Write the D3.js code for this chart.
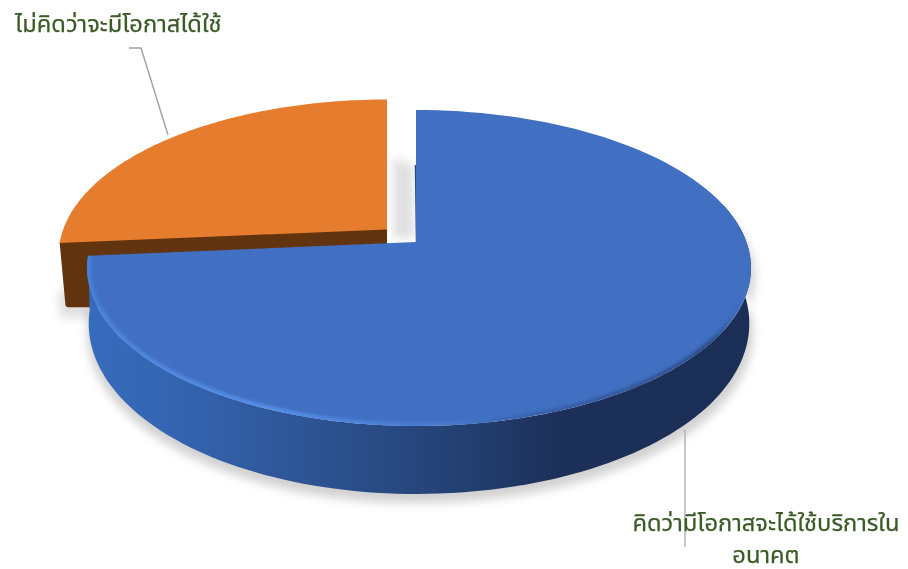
<!DOCTYPE html>
<html>
<head>
<meta charset="utf-8">
<script src="https://cdn.jsdelivr.net/npm/d3@7"></script>
<style>
html, body { margin: 0; background: #fff; overflow: hidden; }
text { font-family: "Noto Sans", "Noto Sans Thai", "DejaVu Sans", sans-serif; font-size: 23.7px; fill: #3b5b26; stroke: #3b5b26; stroke-width: 0.25px; }
</style>
</head>
<body>
<div id="figure"></div>
<script>
const categories = ['คิดว่ามีโอกาสจะได้ใช้บริการในอนาคต', 'ไม่คิดว่าจะมีโอกาสได้ใช้'];
const seriesValues = [73.6, 26.4];
const topColors = ['#4170c2', '#e67c2e'];

const width = 908;
const height = 569;

const svg = d3.select('#figure').append('svg')
    .attr('width', width)
    .attr('height', height);

const defs = svg.append('defs');

// 透视参数
const R = 330.4;
const ky = 0.1646;
const ay = 153.7;
const depth = 68;
const shrink = 0.995;
const leftSquash = 0.982;
const centers = [{ x: 416, y: 242, s: 1, sx: 1 }, { x: 387, y: 229.5, s: 0.985, sx: 0.998 }];

const slices = d3.pie().sort(null).value(d => d)(seriesValues);
const blue = slices[0];
const orange = slices[1];

function project(angle, r, z, c) {
    const u = Math.sin(angle) * r;
    const v = -Math.cos(angle) * r;
    const w = 1 - ky * v;
    const s = (z ? shrink : 1) * c.sx * (u < 0 ? leftSquash : 1);
    return [c.x + R * u / w * s, c.y + ay * v / w * c.s + z * depth * (0.78 + 0.22 * v)];
}

function rim(a0, a1, r, z, c) {
    return d3.range(0, 121).map(i => project(a0 + (a1 - a0) * i / 120, r, z, c));
}

const line = d3.line();

function topPath(d, c, r) {
    return line([[c.x, c.y], ...rim(d.startAngle, d.endAngle, r, 0, c)]) + 'Z';
}

function wallPath(a0, a1, c) {
    return line([...rim(a0, a1, 1, 0, c), ...rim(a1, a0, 1, 1, c)]) + 'Z';
}

// 滤镜和渐变
const blur = (id, sd) => defs.append('filter').attr('id', id)
    .attr('x', '-20%').attr('y', '-20%').attr('width', '140%').attr('height', '140%')
    .append('feGaussianBlur').attr('stdDeviation', sd);
blur('shadow-blur', 5);
blur('soft-blur', 1.6);

const sideGrad = defs.append('linearGradient').attr('id', 'side-grad')
    .attr('gradientUnits', 'userSpaceOnUse')
    .attr('x1', 88).attr('x2', 752).attr('y1', 0).attr('y2', 0);
[[0, '#376bbd'], [0.12, '#3565b2'], [0.32, '#2e5596'], [0.57, '#233f70'], [0.72, '#1b2f58'], [1, '#1b2f56']]
    .forEach(s => sideGrad.append('stop').attr('offset', s[0]).attr('stop-color', s[1]));

const rimGrad = defs.append('linearGradient').attr('id', 'rim-grad')
    .attr('gradientUnits', 'userSpaceOnUse')
    .attr('x1', 88).attr('x2', 752).attr('y1', 0).attr('y2', 0);
[[0, '#4b85de', 0.9], [0.28, '#5590ea', 1], [0.55, '#4b80d4', 0.6], [0.68, '#2c4f90', 0.5], [0.93, '#1f3868', 0.6], [0.985, '#1f3868', 0]]
    .forEach(s => rimGrad.append('stop').attr('offset', s[0]).attr('stop-color', s[1]).attr('stop-opacity', s[2]));

defs.append('clipPath').attr('id', 'blue-clip')
    .append('path').attr('d', topPath(blue, centers[0], 1));

// 阴影
const shadow = svg.append('g').attr('filter', 'url(#shadow-blur)');
shadow.append('path')
    .attr('d', wallPath(Math.PI * 0.42, blue.endAngle, { x: centers[0].x + 1, y: centers[0].y + 9, s: 1, sx: 1.008 }))
    .attr('fill', '#000').attr('opacity', 0.18);
shadow.append('path')
    .attr('d', line([[58, 290], [95, 290], [95, 318], [60, 318]]) + 'Z')
    .attr('fill', '#000').attr('opacity', 0.12);
shadow.append('path')
    .attr('d', line([[centers[0].x - 23, 158], [centers[0].x - 2, 165], [centers[0].x - 2, 238], [centers[0].x - 23, 238]]) + 'Z')
    .attr('fill', '#000').attr('opacity', 0.12);

// 橙色块
const wallDepth = 1.2;
const wallLeft = project(orange.startAngle, 1, 0, centers[1]);
const wallLow = project(orange.startAngle, 1, wallDepth, centers[1]);
svg.append('path')
    .attr('d', line([
        [wallLeft[0] + 3, wallLeft[1]],
        [centers[1].x, centers[1].y + 2],
        [centers[1].x, wallLow[1] - 4],
        [wallLow[0] + 7, wallLow[1] - 4]
    ]) + 'Z')
    .attr('fill', '#62330f')
    .attr('stroke', '#62330f')
    .attr('stroke-width', 6)
    .attr('stroke-linejoin', 'round');

// 橙色右缘不外扩
svg.append('rect')
    .attr('x', centers[1].x)
    .attr('y', centers[1].y - 4)
    .attr('width', 4)
    .attr('height', 20)
    .attr('fill', '#fff');

svg.append('path')
    .attr('d', topPath(orange, centers[1], 1))
    .attr('fill', topColors[1]);

// 蓝色块
svg.append('path')
    .attr('d', wallPath(Math.PI * 0.42, blue.endAngle, centers[0]))
    .attr('fill', 'url(#side-grad)');

svg.append('path')
    .attr('d', line([[centers[0].x - 0.5, 165], [centers[0].x + 0.5, centers[0].y]]))
    .attr('stroke', '#2a4a85')
    .attr('stroke-width', 1.5);

svg.append('path')
    .attr('d', topPath(blue, centers[0], 1))
    .attr('fill', topColors[0]);

// 斜面高光
svg.append('g')
    .attr('clip-path', 'url(#blue-clip)')
    .append('path')
    .attr('d', line(rim(Math.PI * 0.47, blue.endAngle, 0.998, 0, centers[0])))
    .attr('fill', 'none')
    .attr('stroke', 'url(#rim-grad)')
    .attr('stroke-width', 6)
    .attr('filter', 'url(#soft-blur)');

// 引导线
const leader = d3.line();
svg.append('path')
    .attr('d', leader([[129, 48], [141, 48], [168, 135]]))
    .attr('fill', 'none').attr('stroke', '#a0a0a0').attr('stroke-width', 1.4);
svg.append('path')
    .attr('d', leader([[685, 430], [685, 547]]))
    .attr('fill', 'none').attr('stroke', '#b0b0b0').attr('stroke-width', 1.4);

// 标签
svg.append('text').attr('x', 15).attr('y', 32).text(categories[1]);
const lab = svg.append('text').attr('text-anchor', 'middle');
lab.append('tspan').attr('x', 766).attr('y', 531).text(categories[0].slice(0, categories[0].length - 5));
lab.append('tspan').attr('x', 766).attr('y', 563).text(categories[0].slice(-5));
</script>
</body>
</html>
